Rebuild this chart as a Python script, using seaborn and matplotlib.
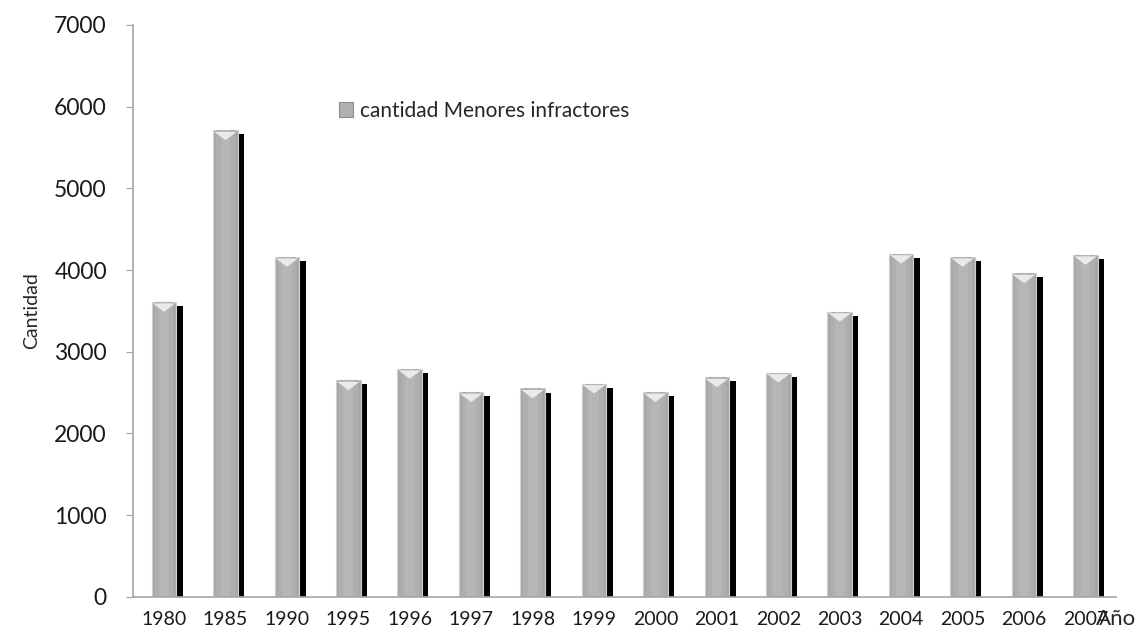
import matplotlib
matplotlib.use("Agg")
import matplotlib.pyplot as plt
import matplotlib.patheffects as pe
from matplotlib.patches import Patch
from matplotlib.transforms import offset_copy
import seaborn as sns
import pandas as pd

# values
years = ["1980", "1985", "1990", "1995", "1996", "1997", "1998", "1999",
         "2000", "2001", "2002", "2003", "2004", "2005", "2006", "2007"]
cantidad = [3610, 5710, 4160, 2650, 2790, 2505, 2550, 2610,
            2505, 2685, 2745, 3490, 4200, 4160, 3960, 4185]
serie = "cantidad Menores infractores"

df = pd.DataFrame({"year": years, "cantidad": cantidad})

sns.set_style("white")
plt.rcParams["font.family"] = ["Lato", "DejaVu Sans"]

fig, ax = plt.subplots(figsize=(11.39, 6.39), dpi=100)
fig.subplots_adjust(left=0.117, right=0.98, top=0.961, bottom=0.066)

sns.barplot(data=df, x="year", y="cantidad", color="#a8a8a8", width=0.4,
            saturation=1, edgecolor="#cfcfcf", linewidth=0.8, ax=ax)
shadow = [pe.SimplePatchShadow(offset=(4.6, -2.9), shadow_rgbFace="black", alpha=1),
          pe.Normal()]
for p in ax.patches:
    p.set_path_effects(shadow)

# lighter centre strips to mimic the cylinder shading
sns.barplot(data=df, x="year", y="cantidad", color="#afafaf", width=0.3,
            saturation=1, linewidth=0, ax=ax)
sns.barplot(data=df, x="year", y="cantidad", color="#b6b6b6", width=0.16,
            saturation=1, linewidth=0, ax=ax)

# flat chevron highlight at the top of each bar
chevron = [(-1, 0), (1, 0), (0, -0.75)]
chev = offset_copy(ax.transData, fig=fig, x=0, y=-1.5, units="dots")
sns.scatterplot(data=df, x="year", y="cantidad", marker=chevron, s=260,
                color="#eaeaea", edgecolor="none", transform=chev, ax=ax,
                zorder=5, legend=False)

ax.set_xlim(-0.5, len(years) - 0.5)
ax.set_ylim(0, 7000)
ax.set_yticks(range(0, 7001, 1000))
ax.tick_params(axis="y", labelsize=16.5, length=5, color="#a0a0a0", pad=14,
               left=True, labelcolor="#1a1a1a")
ax.tick_params(axis="x", labelsize=14, length=0, pad=10, labelcolor="#1a1a1a")

sns.despine(ax=ax)
for s in ["left", "bottom"]:
    ax.spines[s].set_color("#a6a6a6")
    ax.spines[s].set_linewidth(1.2)

ax.set_ylabel("Cantidad", fontsize=14, labelpad=10)
ax.set_xlabel("Año", fontsize=16)
ax.xaxis.set_label_coords(1.0, -0.022)

handle = Patch(facecolor="#b0b0b0", edgecolor="#8c8c8c", linewidth=0.8)
ax.legend(handles=[handle], labels=[serie], loc="upper left",
          bbox_to_anchor=(0.19, 0.9), frameon=False, fontsize=15,
          handlelength=0.7, handleheight=0.7, handletextpad=0.3)

plt.savefig("out.png", dpi=100)
